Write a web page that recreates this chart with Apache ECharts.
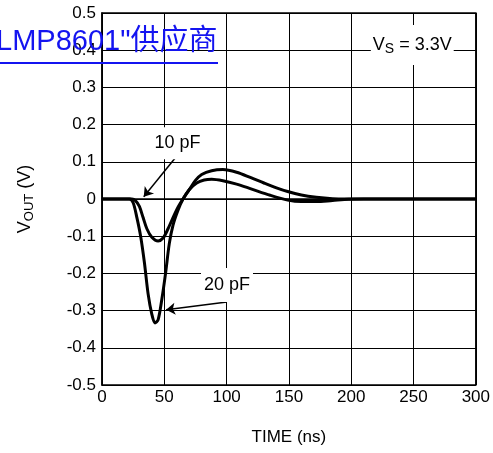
<!DOCTYPE html>
<html>
<head>
<meta charset="utf-8">
<title>VOUT vs TIME</title>
<script src="https://cdn.jsdelivr.net/npm/echarts@6/dist/echarts.min.js"></script>
<style>
  html, body { margin: 0; padding: 0; background: #fff; }
  #chart { width: 493px; height: 453px; }
</style>
</head>
<body>
<div id="chart"></div>
<script>
// time (ns) / Vout (V)
var t10 = [0, 24, 27, 30, 33, 36, 40, 45, 49, 53, 57, 61, 65, 70, 75, 80, 88, 97, 108, 119, 130, 140, 149, 160, 172, 185, 195, 240, 300];
var v10 = [0, 0, -0.005, -0.02, -0.05, -0.08, -0.103, -0.113, -0.105, -0.08, -0.05, -0.022, 0, 0.025, 0.05, 0.066, 0.076, 0.079, 0.072, 0.058, 0.043, 0.03, 0.02, 0.011, 0.005, 0.001, 0, 0, 0];

var t20 = [0, 22, 25, 28, 31, 34, 37, 40, 42.5, 45, 48, 51, 54, 57, 61, 65, 70, 76, 82, 88, 97, 108, 119, 135, 149, 160, 172, 185, 198, 210, 300];
var v20 = [0, 0, -0.01, -0.05, -0.1, -0.17, -0.255, -0.31, -0.333, -0.325, -0.27, -0.2, -0.12, -0.07, -0.03, 0, 0.025, 0.043, 0.051, 0.053, 0.049, 0.04, 0.028, 0.01, -0.003, -0.007, -0.007, -0.004, -0.001, 0, 0];

var xTicks = [0, 50, 100, 150, 200, 250, 300];
var yTicks = [-0.5, -0.4, -0.3, -0.2, -0.1, 0, 0.1, 0.2, 0.3, 0.4, 0.5];

function pairs(t, v) {
    var out = [];
    for (var i = 0; i < t.length; i++) out.push([t[i], v[i]]);
    return out;
}

var font = '"Liberation Sans", Arial, sans-serif';
var labelBox = {
    show: true,
    position: 'inside',
    color: '#000',
    fontSize: 18,
    fontFamily: font,
    backgroundColor: '#fff',
    formatter: '{b}'
};

var myChart = echarts.init(document.getElementById('chart'));

myChart.setOption({
    animation: false,
    backgroundColor: '#fff',
    grid: {
        left: 102,
        right: 17,
        top: 13,
        bottom: 68,
        show: true,
        borderColor: '#000',
        borderWidth: 1.5
    },
    xAxis: {
        type: 'value',
        min: xTicks[0],
        max: xTicks[xTicks.length - 1],
        interval: 50,
        name: 'TIME (ns)',
        nameLocation: 'middle',
        nameGap: 44,
        nameTextStyle: { color: '#000', fontSize: 17, fontFamily: font },
        axisLine: { lineStyle: { color: '#000', width: 1.5 } },
        axisTick: { show: false },
        axisLabel: { color: '#000', fontSize: 17, fontFamily: font, margin: 4 },
        splitLine: { lineStyle: { color: '#000', width: 1 } }
    },
    yAxis: {
        type: 'value',
        min: yTicks[0],
        max: yTicks[yTicks.length - 1],
        interval: 0.1,
        name: '{v|V}{s|OUT}{v| (V)}',
        nameLocation: 'middle',
        nameGap: 66,
        nameTextStyle: {
            color: '#000',
            rich: {
                v: { fontSize: 18, fontFamily: font, color: '#000', lineHeight: 22, verticalAlign: 'middle' },
                s: { fontSize: 13, fontFamily: font, color: '#000', lineHeight: 14, verticalAlign: 'bottom' }
            }
        },
        axisLine: { lineStyle: { color: '#000', width: 1.5 } },
        axisTick: { show: false },
        axisLabel: {
            color: '#000', fontSize: 17, fontFamily: font, margin: 6,
            formatter: function (v) { return String(+v.toFixed(1)); }
        },
        splitLine: { lineStyle: { color: '#000', width: 1 } }
    },
    series: [{
        name: '10 pF',
        type: 'line',
        data: pairs(t10, v10),
        smooth: 0.3,
        showSymbol: false,
        lineStyle: { color: '#000', width: 3 },
        z: 3,
        markLine: {
            silent: true,
            symbol: ['none', 'arrow'],
            symbolSize: 9,
            label: { show: false },
            lineStyle: { color: '#000', width: 1.5, type: 'solid' },
            data: [
                [{ coord: [59.4, 0.113] }, { coord: [33.5, 0.006] }],
                [{ coord: [100.3, -0.277] }, { coord: [51.5, -0.298] }]
            ]
        },
        markPoint: {
            silent: true,
            symbol: 'circle',
            symbolSize: 0,
            label: labelBox,
            data: [
                { name: '10 pF', coord: [60.6, 0.15], label: { padding: [7, 2] } },
                { name: '20 pF', coord: [100.3, -0.231], label: { padding: [8, 3] } },
                {
                    name: 'vs', coord: [249, 0.414],
                    label: {
                        padding: [9, 2],
                        formatter: '{v|V}{s|S}{v| = 3.3V}',
                        rich: {
                            v: { fontSize: 18, fontFamily: font, color: '#000', lineHeight: 22, verticalAlign: 'middle' },
                            s: { fontSize: 14, fontFamily: font, color: '#000', lineHeight: 15, verticalAlign: 'bottom' }
                        }
                    }
                }
            ]
        }
    }, {
        name: '20 pF',
        type: 'line',
        data: pairs(t20, v20),
        smooth: 0.3,
        showSymbol: false,
        lineStyle: { color: '#000', width: 3 },
        z: 3
    }],
    graphic: [{
        type: 'text',
        left: -4,
        top: 27,
        style: {
            text: 'LMP8601"供应商',
            fill: '#1414f0',
            fontSize: 29,
            fontFamily: '"Liberation Sans", "Noto Sans CJK SC", sans-serif'
        },
        z: 100
    }, {
        type: 'rect',
        shape: { x: 0, y: 62, width: 218, height: 2 },
        style: { fill: '#1414f0' },
        z: 100
    }]
});
</script>
</body>
</html>
